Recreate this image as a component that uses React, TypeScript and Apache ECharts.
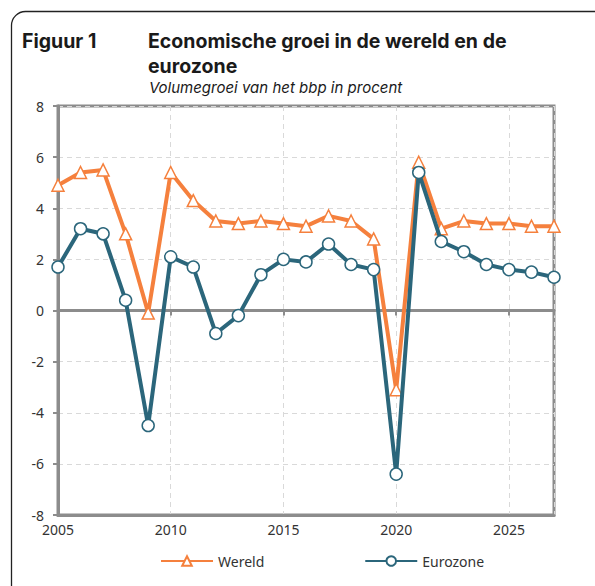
import React, { useEffect, useRef } from "react";
import * as echarts from "echarts";

const years = [2005, 2006, 2007, 2008, 2009, 2010, 2011, 2012, 2013, 2014, 2015, 2016, 2017, 2018, 2019, 2020, 2021, 2022, 2023, 2024, 2025, 2026, 2027];
const wereld = [4.9, 5.4, 5.5, 3.0, -0.1, 5.4, 4.3, 3.5, 3.4, 3.5, 3.4, 3.3, 3.7, 3.5, 2.8, -3.1, 5.8, 3.2, 3.5, 3.4, 3.4, 3.3, 3.3];
const eurozone = [1.7, 3.2, 3.0, 0.4, -4.5, 2.1, 1.7, -0.9, -0.2, 1.4, 2.0, 1.9, 2.6, 1.8, 1.6, -6.4, 5.4, 2.7, 2.3, 1.8, 1.6, 1.5, 1.3];
const seriesNames = ["Wereld", "Eurozone"];
const titleMain = "Figuur 1";
const titleLine1 = "Economische groei in de wereld en de";
const titleLine2 = "eurozone";
const subtitle = "Volumegroei van het bbp in procent";

const ORANGE = "#F5803D";
const TEAL = "#2B667B";
const GRAY = "#8C8C8C";
const FONT = "'Noto Sans', sans-serif";
const TFONT = "Inter, 'Noto Sans', sans-serif";

export default function App() {
  const ref = useRef<HTMLDivElement>(null);
  useEffect(() => {
    if (!ref.current) return;
    const chart = echarts.init(ref.current, null, { renderer: "svg" });
    chart.setOption({
      animation: false,
      backgroundColor: "#fff",
      textStyle: { fontFamily: FONT },
      graphic: [
        { type: "rect", left: 9, top: 9, shape: { width: 620, height: 620, r: 14 }, style: { fill: "none", stroke: "#222", lineWidth: 1.3 }, z: -1, silent: true },
        { type: "text", left: 22, top: 31, style: { text: titleMain, font: `bold 19.5px ${TFONT}`, fill: "#1a1a1a" } },
        { type: "text", left: 148, top: 31, style: { text: titleLine1, font: `bold 19.5px ${TFONT}`, fill: "#1a1a1a" } },
        { type: "text", left: 148, top: 55.5, style: { text: titleLine2, font: `bold 19.5px ${TFONT}`, fill: "#1a1a1a" } },
        { type: "text", left: 149, top: 79.5, style: { text: subtitle, font: `italic 15px ${TFONT}`, fill: "#1a1a1a" } },
      ],
      grid: { left: 58, right: 41, top: 106, bottom: 71, show: true, borderColor: GRAY, borderWidth: 3 },
      legend: {
        left: 155,
        top: 549,
        itemWidth: 52,
        itemHeight: 12,
        itemGap: 100,
        textStyle: { fontFamily: FONT, fontSize: 14, color: "#333" },
        data: seriesNames,
      },
      xAxis: [
        {
          type: "value",
          min: 2005,
          max: 2027,
          interval: 5,
          position: "bottom",
          axisLine: { show: true, onZero: false, lineStyle: { color: GRAY, width: 3 } },
          axisTick: { show: false },
          axisLabel: {
            color: "#333",
            fontSize: 14,
            fontFamily: FONT,
            margin: 7,
            formatter: (v: number) => (v % 5 === 0 ? String(v) : ""),
          },
          splitLine: { show: true, lineStyle: { color: "#d9d9d9", type: [5, 4], width: 1 } },
        },
        {
          type: "value",
          min: 2005,
          max: 2027,
          interval: 5,
          position: "bottom",
          axisLine: { show: true, onZero: true, lineStyle: { color: GRAY, width: 3 } },
          axisTick: { show: true, length: 5, lineStyle: { color: GRAY, width: 2 } },
          axisLabel: { show: false },
          splitLine: { show: false },
        },
      ],
      yAxis: {
        type: "value",
        min: -8,
        max: 8,
        interval: 2,
        axisLine: { show: true, lineStyle: { color: GRAY, width: 3 } },
        axisTick: { show: true, length: 5, lineStyle: { color: GRAY, width: 2 } },
        axisLabel: { color: "#333", fontSize: 14, fontFamily: FONT, margin: 14 },
        splitLine: { show: true, lineStyle: { color: "#d9d9d9", type: [5, 4], width: 1 } },
      },
      series: [
        {
          name: seriesNames[0],
          type: "line",
          data: years.map((y, i) => [y, wereld[i]]),
          symbol: "triangle",
          symbolSize: 12,
          lineStyle: { color: ORANGE, width: 4 },
          itemStyle: { color: "#fff", borderColor: ORANGE, borderWidth: 1.5 },
          z: 3,
        },
        {
          name: seriesNames[1],
          type: "line",
          data: years.map((y, i) => [y, eurozone[i]]),
          symbol: "circle",
          symbolSize: 12,
          lineStyle: { color: TEAL, width: 4 },
          itemStyle: { color: "#fff", borderColor: TEAL, borderWidth: 1.5 },
          z: 4,
        },
      ],
    });
    return () => chart.dispose();
  }, []);
  return <div ref={ref} style={{ width: 595, height: 586, position: "absolute", left: 0, top: 0 }} />;
}
